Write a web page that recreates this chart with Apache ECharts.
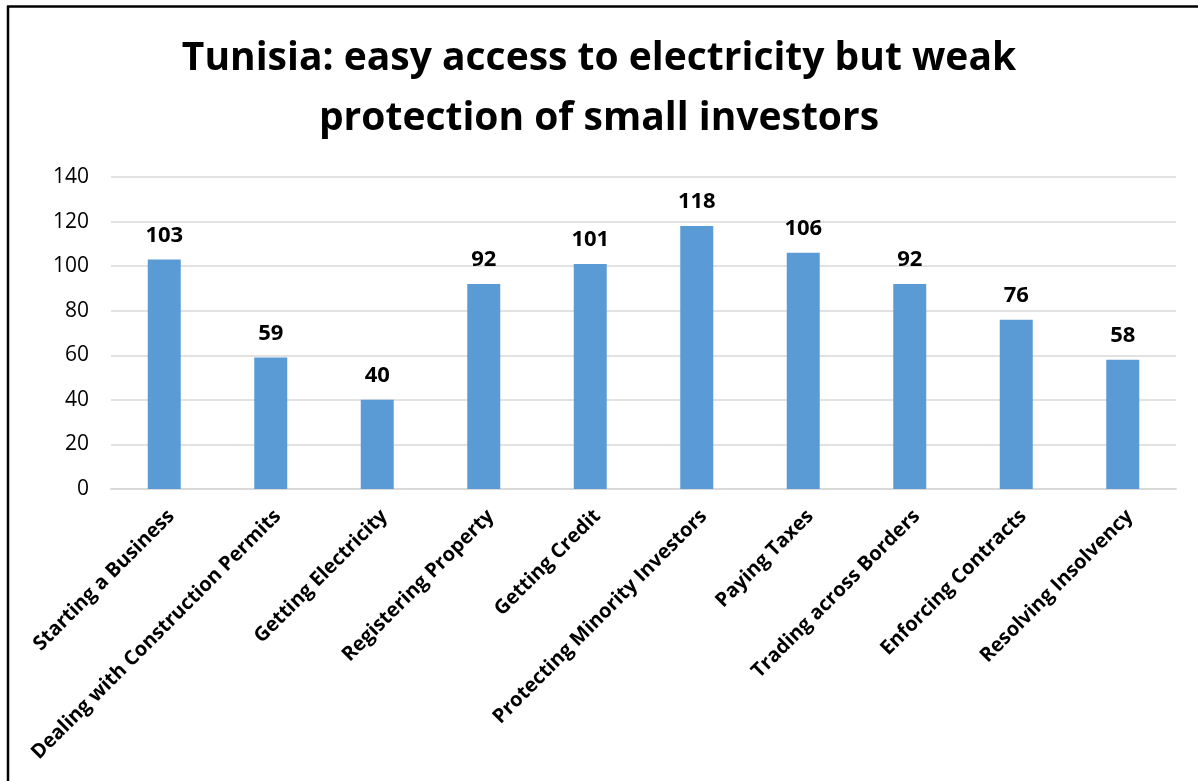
<!DOCTYPE html>
<html>
<head>
<meta charset="utf-8">
<script src="https://cdn.jsdelivr.net/npm/echarts@6/dist/echarts.min.js"></script>
<style>
  html, body { margin: 0; padding: 0; background: #fff; }
  #chart { width: 1198px; height: 781px; }
</style>
</head>
<body>
<div id="chart"></div>
<script>
// Doing Business 2015 rankings for Tunisia, by topic
const categories = [
  'Starting a Business',
  'Dealing with Construction Permits',
  'Getting Electricity',
  'Registering Property',
  'Getting Credit',
  'Protecting Minority Investors',
  'Paying Taxes',
  'Trading across Borders',
  'Enforcing Contracts',
  'Resolving Insolvency'
];
const ranks = [103, 59, 40, 92, 101, 118, 106, 92, 76, 58];
const titleLines = ['Tunisia: easy access to electricity but weak', 'protection of small investors'];

const chart = echarts.init(document.getElementById('chart'), null, { renderer: 'canvas' });
const font = '"Open Sans", "Liberation Sans", sans-serif';

chart.setOption({
  backgroundColor: '#ffffff',
  animation: false,
  title: {
    text: titleLines.join('\n'),
    left: 'center',
    top: 24,
    textStyle: {
      fontFamily: font,
      fontSize: 39,
      fontWeight: 'bold',
      color: '#000',
      lineHeight: 60
    }
  },
  graphic: [
    { type: 'line', shape: { x1: 8, y1: 6, x2: 8, y2: 781 }, style: { stroke: '#000', lineWidth: 2.5 } },
    { type: 'line', shape: { x1: 7, y1: 6.5, x2: 1198, y2: 6.5 }, style: { stroke: '#000', lineWidth: 2.5 } }
  ],
  grid: { left: 111, right: 22, top: 177, bottom: 292, containLabel: false },
  xAxis: {
    type: 'category',
    data: categories,
    axisLine: { lineStyle: { color: '#d9d9d9', width: 2 } },
    axisTick: { show: false },
    axisLabel: {
      rotate: 45,
      interval: 0,
      margin: 17,
      verticalAlign: 'top',
      fontFamily: font,
      fontSize: 20,
      fontWeight: 'bold',
      color: '#000'
    }
  },
  yAxis: {
    type: 'value',
    min: 0,
    max: 140,
    interval: 20,
    axisLine: { show: false },
    axisTick: { show: false },
    splitLine: { lineStyle: { color: '#d9d9d9', width: 1.5 } },
    axisLabel: {
      margin: 22,
      fontFamily: font,
      fontSize: 21,
      color: '#000'
    }
  },
  series: [{
    type: 'bar',
    data: ranks,
    barWidth: 33,
    itemStyle: { color: '#5b9bd5' },
    label: {
      show: true,
      position: 'top',
      distance: 13,
      fontFamily: font,
      fontSize: 22,
      fontWeight: 'bold',
      color: '#000'
    }
  }]
});
</script>
</body>
</html>
